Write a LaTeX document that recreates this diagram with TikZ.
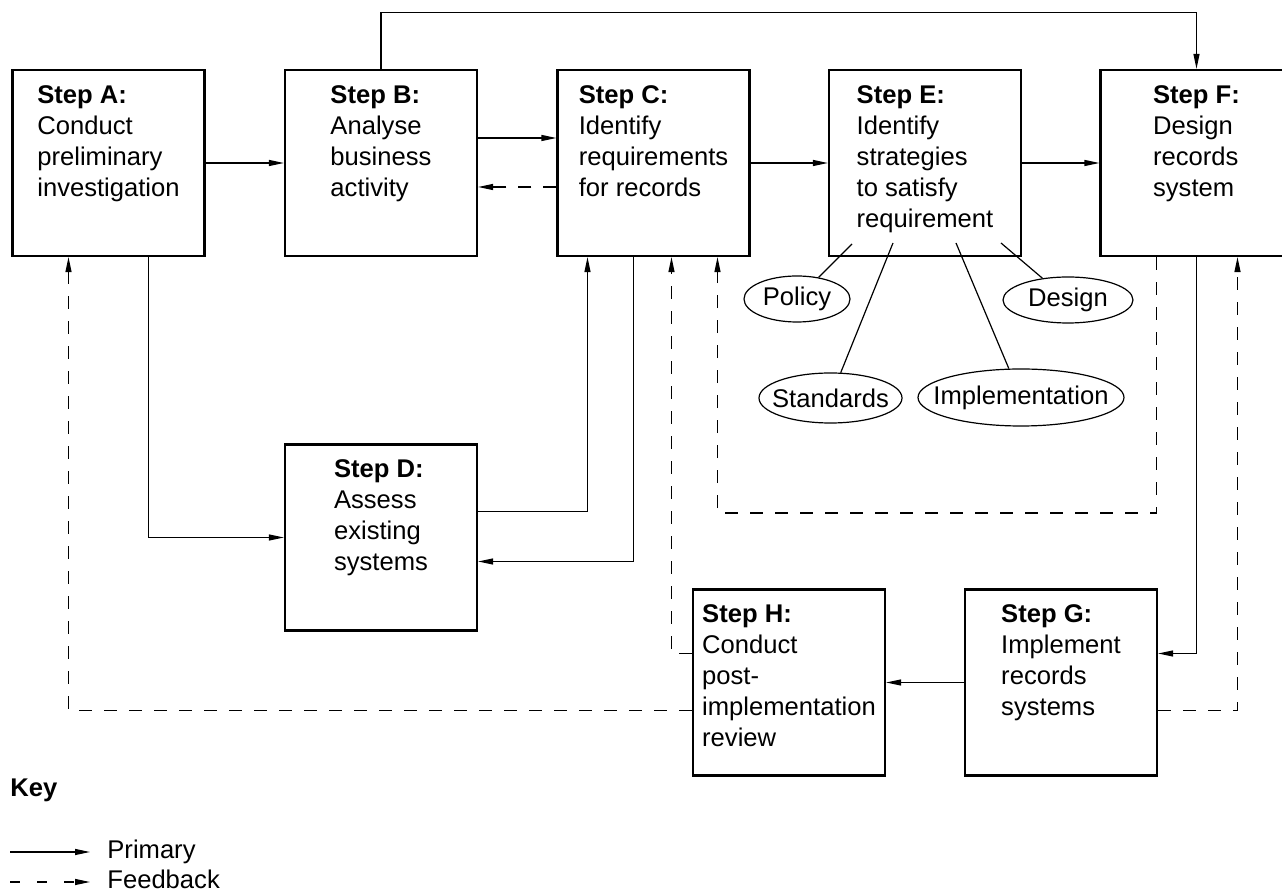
\documentclass[tikz,border=0pt]{standalone}
\usepackage{fontspec}
\setmainfont{Liberation Sans}
\usetikzlibrary{arrows.meta,shapes.geometric}

\begin{document}
\begin{tikzpicture}[x=0.5pt,y=-0.5pt,
			font=\fontsize{12.8}{15.5}\selectfont,
			stepbox/.style={draw,line width=1.1pt,minimum width=96pt,minimum height=93pt,inner sep=0pt},
			steptext/.style={anchor=north,align=left,inner sep=0pt,yshift=-8pt},
			bubble/.style={draw,ellipse,line width=0.6pt,inner sep=0pt},
			primary/.style={line width=0.6pt,-{Triangle[length=7.5pt,width=3pt]}},
			feedback/.style={primary,dash pattern=on 6.5pt off 6pt}]
			\useasboundingbox (0,0) rectangle (1282,892);
			% steps
			\node[stepbox] (A) at (108.5,163) {};
			\node[stepbox] (B) at (381,163) {};
			\node[stepbox] (C) at (653.5,163) {};
			\node[stepbox] (E) at (925,163) {};
			\node[stepbox] (F) at (1196.5,163) {};
			\node[stepbox] (D) at (381,537.5) {};
			\node[stepbox] (H) at (789,682.5) {};
			\node[stepbox] (G) at (1061,682.5) {};
			\node[steptext] (At) at (A.north) {\textbf{Step A:}\\Conduct\\preliminary\\investigation};
			\node[steptext] (Bt) at (B.north) {\textbf{Step B:}\\Analyse\\business\\activity};
			\node[steptext] (Ct) at (C.north) {\textbf{Step C:}\\Identify\\requirements\\for records};
			\node[steptext] (Et) at (E.north) {\textbf{Step E:}\\Identify\\strategies\\to satisfy\\requirement};
			\node[steptext] (Ft) at (F.north) {\textbf{Step F:}\\Design\\records\\system};
			\node[steptext] (Dt) at (D.north) {\textbf{Step D:}\\Assess\\existing\\systems};
			\node[steptext] (Ht) at (H.north) {\textbf{Step H:}\\Conduct\\post-\\implementation\\review};
			\node[steptext] (Gt) at (G.north) {\textbf{Step G:}\\Implement\\records\\systems};
			% strategies
			\coordinate (eP) at (852,244);
			\coordinate (eS) at (893,243);
			\coordinate (eI) at (956,243);
			\coordinate (eD) at (1001,243);
			\node[bubble,minimum width=53pt,minimum height=23pt] (Pol) at (797,299) {\makebox[0pt]{Policy}};
			\node[bubble,minimum width=65pt,minimum height=23pt] (Des) at (1068,300) {\makebox[0pt]{Design}};
			\node[bubble,minimum width=71.5pt,minimum height=25pt] (Std) at (830.5,398) {\makebox[0pt]{Standards}};
			\node[bubble,minimum width=103pt,minimum height=28.5pt] (Imp) at (1021,397.5) {\makebox[0pt]{Implementation}};
			\draw[line width=0.6pt] (eP) to (Pol);
			\draw[line width=0.6pt] (eS) to (Std);
			\draw[line width=0.6pt] (eI) to (Imp);
			\draw[line width=0.6pt] (eD) to (Des);
			% primary flow
			\draw[primary] (A) to (B);
			\draw[primary] ([yshift=12.5pt]B.east) to ([yshift=12.5pt]C.west);
			\draw[primary] (C) to (E);
			\draw[primary] (E) to (F);
			\draw[primary] (B.north) -- ++(0,-56) -| (F.north);
			\draw[primary] ([xshift=20pt]A.south) |- (D.west);
			\draw[primary] ([yshift=13pt]D.east) -| ([xshift=-33pt]C.south);
			\draw[primary] ([xshift=-10pt]C.south) |- ([yshift=-12pt]D.east);
			\draw[primary] (F.south) |- ([yshift=14.5pt]G.east);
			\draw[primary] (G) to (H);
			% feedback
			\draw[feedback] ([yshift=-12pt]C.west) to ([yshift=-12pt]B.east);
			\draw[feedback] ([xshift=-20pt]F.south) -- ++(0,256) -| ([xshift=32pt]C.south);
			\draw[feedback] ([yshift=14.5pt]H.west) -| ([xshift=9pt]C.south);
			\draw[feedback] ([yshift=-14pt]H.west) -| ([xshift=-20pt]A.south);
			\draw[feedback] ([yshift=-14pt]G.east) -| ([xshift=20.5pt]F.south);
			% key
			\node[anchor=base west,inner sep=0pt] (key) at (10,797) {\textbf{Key}};
			\coordinate (kp1) at (10,852);
			\coordinate (kp2) at (90,852);
			\coordinate (kf1) at (10,882);
			\coordinate (kf2) at (90,882);
			\draw[primary] (kp1) to (kp2);
			\draw[feedback,dash pattern=on 5pt off 8.5pt] (kf1) to (kf2);
			\node[anchor=base west,inner sep=0pt] (kpt) at (107,859) {Primary};
			\node[anchor=base west,inner sep=0pt] (kft) at (107,889) {Feedback};
		\end{tikzpicture}
\end{document}
